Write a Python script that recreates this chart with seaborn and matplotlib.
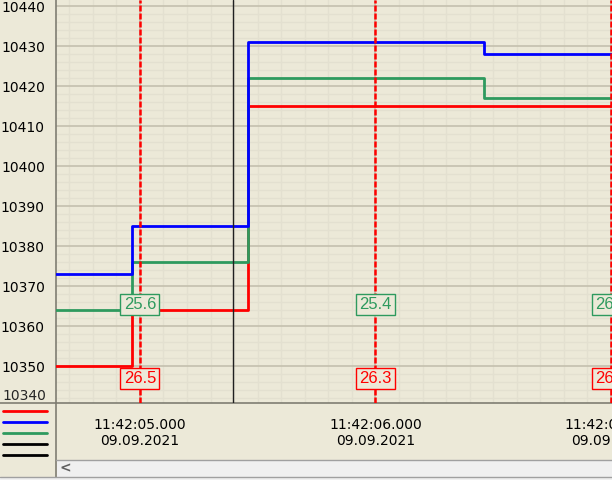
import matplotlib
matplotlib.use("Agg")
import matplotlib.pyplot as plt
from matplotlib.lines import Line2D
from matplotlib.patches import Rectangle
from matplotlib.ticker import MultipleLocator, FuncFormatter
import numpy as np
import pandas as pd
import seaborn as sns

# time in seconds after 11:42:00, 09.09.2021
t = [4.60, 4.966, 5.458, 6.462, 7.05]
blue_vals = [10373, 10385, 10431, 10428, 10428]
green_vals = [10364, 10376, 10422, 10417, 10417]
red_vals = [10350, 10364, 10415, 10415, 10415]

cursor_t = [5, 6, 7]
cursor_green = ["25.6", "25.4", "26.0"]
cursor_red = ["26.5", "26.3", "26.1"]
marker_t = 5.394

bg = "#ece9d8"
c_red = "#ff0000"
c_blue = "#0000ff"
c_green = "#2e9a5e"

df = pd.DataFrame({
    "t": t * 3,
    "v": blue_vals + green_vals + red_vals,
    "s": ["blue"] * len(t) + ["green"] * len(t) + ["red"] * len(t),
})

sns.set_style("white")
plt.rcParams["font.family"] = ["DejaVu Sans"]

W, H = 612, 480
fig = plt.figure(figsize=(6.12, 4.8), dpi=100, facecolor=bg)
ax = fig.add_axes([56 / W, (H - 403) / H, (W - 56) / W, 403 / H])
ax.set_facecolor(bg)

sns.lineplot(data=df, x="t", y="v", hue="s", palette={"blue": c_blue, "green": c_green, "red": c_red},
             hue_order=["red", "green", "blue"], drawstyle="steps-post", linewidth=2,
             legend=False, ax=ax, zorder=3)

ax.set_xlim(4.644, 7.004)
ax.set_ylim(10340.75, 10441.5)
ax.set_xlabel("")
ax.set_ylabel("")

ax.yaxis.set_major_locator(MultipleLocator(10))
ax.yaxis.set_minor_locator(MultipleLocator(2))
ax.xaxis.set_major_locator(MultipleLocator(1))
ax.xaxis.set_minor_locator(MultipleLocator(0.1))
ax.xaxis.set_major_formatter(FuncFormatter(lambda x, p: "11:42:%02d.000\n09.09.2021" % int(round(x))))
ax.yaxis.set_major_formatter(FuncFormatter(lambda y, p: "%d" % y))

ax.grid(which="major", color="#c4c0ae", linewidth=1.2, zorder=0)
ax.grid(which="minor", color="#e3e0d0", linewidth=1.0, zorder=0)
ax.set_axisbelow(True)

ax.tick_params(axis="y", which="major", direction="out", length=3, width=1, labelsize=10, pad=5, colors="#555555", labelcolor="black")
ax.tick_params(axis="y", which="minor", direction="out", length=3, width=1, colors="#555555")
ax.tick_params(axis="x", which="major", direction="out", length=4, width=1, labelsize=10, pad=7, colors="#333333", labelcolor="black")
ax.tick_params(axis="x", which="minor", direction="out", length=3, width=1, colors="#333333")

for sp in ["top", "right"]:
    ax.spines[sp].set_visible(False)
ax.spines["left"].set_color("#7f7d72")
ax.spines["bottom"].set_color("#7f7d72")
ax.spines["left"].set_linewidth(1.2)
ax.spines["bottom"].set_linewidth(1.2)

# bottom label that the axis clamps inside the plot
ax.text(-0.017, 0.0, "10340", transform=ax.transAxes, ha="right", va="bottom", fontsize=10)

# cursor lines and value boxes
box_font = ["Liberation Sans", "DejaVu Sans"]
for x, g, r in zip(cursor_t, cursor_green, cursor_red):
    ax.axvline(x, color=c_red, linestyle=(0, (2.4, 0.8)), linewidth=1.8, zorder=4)
    ax.text(x, 10365.4, g, color=c_green, fontsize=12, family=box_font, ha="center", va="center", zorder=5,
            bbox=dict(boxstyle="square,pad=0.2", facecolor=bg, edgecolor=c_green, linewidth=1))
    ax.text(x, 10346.9, r, color=c_red, fontsize=12, family=box_font, ha="center", va="center", zorder=5,
            bbox=dict(boxstyle="square,pad=0.2", facecolor=bg, edgecolor=c_red, linewidth=1))

ax.axvline(marker_t, color="#202020", linewidth=1, zorder=4)

# legend panel at bottom left
leg_colors = [c_red, c_blue, c_green, "black", "black"]
for i, c in enumerate(leg_colors):
    y = (H - (411 + i * 11)) / H
    fig.add_artist(Line2D([3 / W, 47 / W], [y, y], color=c, linewidth=2))
fig.add_artist(Line2D([56 / W, 56 / W], [(H - 477) / H, (H - 403) / H], color="#7f7d72", linewidth=1.2))
fig.add_artist(Line2D([0, 56 / W], [(H - 403) / H, (H - 403) / H], color="#7f7d72", linewidth=1.2))

# scroll bar
fig.add_artist(Rectangle((57 / W, (H - 477) / H), (W - 57) / W, 17 / H, facecolor="#f0f0f0",
                         edgecolor="none", transform=fig.transFigure))
fig.add_artist(Line2D([56 / W, 1], [(H - 459.5) / H, (H - 459.5) / H], color="#a0a0a0", linewidth=1))
fig.add_artist(Rectangle((0, 0), 1, 3 / H, facecolor="#f0f0f0", edgecolor="none", transform=fig.transFigure))
fig.add_artist(Line2D([0, 1], [3 / H, 3 / H], color="#a0a0a0", linewidth=1))
fig.text(65 / W, (H - 468) / H, "<", fontsize=10, color="#606060", ha="center", va="center", fontweight="bold")

fig.savefig("out.png", dpi=100, facecolor=bg)
